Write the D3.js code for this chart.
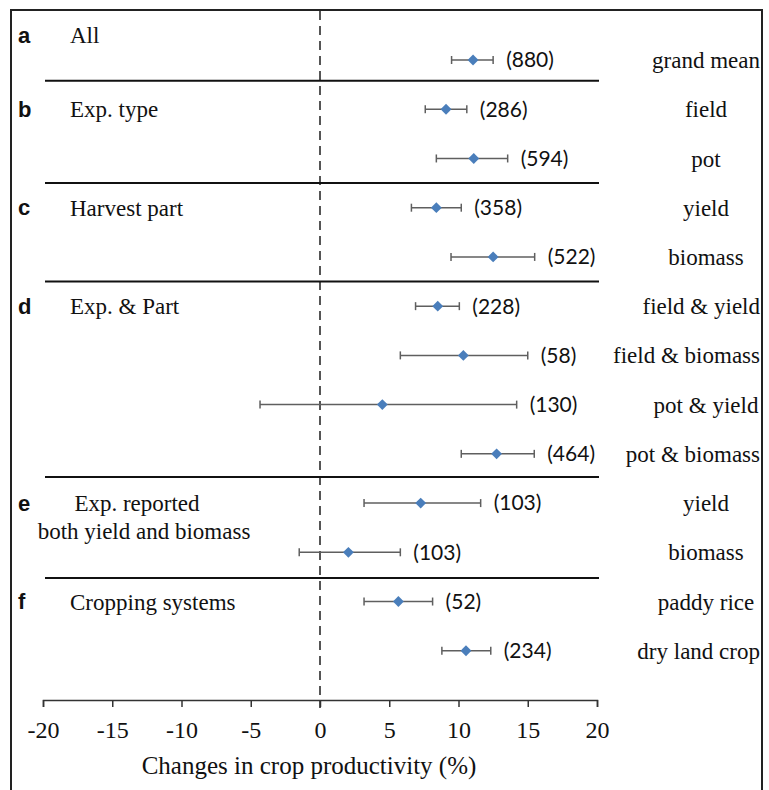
<!DOCTYPE html>
<html><head><meta charset="utf-8">
<script src="https://cdn.jsdelivr.net/npm/d3@7"></script>
<style>html,body{margin:0;padding:0;background:#fff;}svg{display:block;}</style>
</head><body>
<svg id="chart" width="769" height="790"></svg>
<script>
// ---- data ----
const rowLabels = ['grand mean','field','pot','yield','biomass','field & yield','field & biomass','pot & yield','pot & biomass','yield','biomass','paddy rice','dry land crop'];
const means  = [11.05, 9.1, 11.1, 8.4, 12.5, 8.5, 10.35, 4.5, 12.75, 7.27, 2.05, 5.66, 10.54];
const lower  = [9.5, 7.6, 8.4, 6.6, 9.46, 6.9, 5.8, -4.33, 10.2, 3.18, -1.5, 3.18, 8.8];
const upper  = [12.5, 10.6, 13.55, 10.2, 15.5, 10.06, 15.0, 14.2, 15.47, 11.6, 5.8, 8.13, 12.33];
const counts = [880, 286, 594, 358, 522, 228, 58, 130, 464, 103, 103, 52, 234];
const groupLetters = ['a','b','c','d','e','f'];
const groupTitles = [['All'],['Exp. type'],['Harvest part'],['Exp. & Part'],['Exp. reported','both yield and biomass'],['Cropping systems']];
const groupStart = [0, 1, 3, 5, 9, 11];
const separatorRows = [0.42, 2.5, 4.5, 8.47, 10.52];
const xTicks = [-20,-15,-10,-5,0,5,10,15,20];
const xTitle = 'Changes in crop productivity (%)';

const svg = d3.select('#chart');
const serif = '"Liberation Serif","Times New Roman",serif';
const sans = '"Liberation Sans",Arial,sans-serif';

const x = d3.scaleLinear().domain([-20, 20]).range([43, 597]);
const y = d3.scaleLinear().domain([0, rowLabels.length]).range([60, 700]);

// clip & border
svg.append('defs').append('clipPath').attr('id','clip')
  .append('rect').attr('x',11).attr('y',10).attr('width',751).attr('height',800);
svg.append('rect').attr('x',11).attr('y',10).attr('width',751).attr('height',800)
  .attr('fill','none').attr('stroke','#222').attr('stroke-width',2);
const g = svg.append('g').attr('clip-path','url(#clip)');

// zero dashed line
g.append('line').attr('x1',x(0)).attr('x2',x(0)).attr('y1',11).attr('y2',708)
  .attr('stroke','#555').attr('stroke-width',2).attr('stroke-dasharray','9,6');

// separators
separatorRows.forEach(r => {
  const yy = y(r);
  g.append('line').attr('x1', x(-20)+2).attr('x2', x(20)+2).attr('y1', yy).attr('y2', yy)
    .attr('stroke','#111').attr('stroke-width',2);
});

// axis
const axis = d3.axisBottom(x).tickValues(xTicks).tickSize(7).tickFormat(d3.format('d'));
const ax = g.append('g').attr('transform',`translate(0,${y(rowLabels.length)})`).call(axis);
ax.select('.domain').attr('stroke','#333').attr('stroke-width',1.5);
ax.selectAll('.tick line').attr('stroke','#333').attr('stroke-width',1.5);
ax.selectAll('.tick text').attr('font-family',serif).attr('font-size',24).attr('fill','#111')
  .attr('y', 30).attr('dy','0.35em')
  .text(d => d < 0 ? '-' + Math.abs(d) : d);
g.append('text').attr('x', 309).attr('y', 765).attr('dy','0.35em').attr('text-anchor','middle')
  .attr('font-family',serif).attr('font-size',25).attr('fill','#111').text(xTitle);

// error bars
const idx = d3.range(rowLabels.length);
g.selectAll('.eb').data(idx).join('line').attr('class','eb')
  .attr('x1', i => x(lower[i])).attr('x2', i => x(upper[i]))
  .attr('y1', i => y(i)).attr('y2', i => y(i)).attr('stroke','#5f5f5f').attr('stroke-width',1.5);
g.selectAll('.capl').data(idx).join('line').attr('class','capl')
  .attr('x1', i => x(lower[i])).attr('x2', i => x(lower[i]))
  .attr('y1', i => y(i)-4).attr('y2', i => y(i)+4).attr('stroke','#5f5f5f').attr('stroke-width',1.5);
g.selectAll('.capu').data(idx).join('line').attr('class','capu')
  .attr('x1', i => x(upper[i])).attr('x2', i => x(upper[i]))
  .attr('y1', i => y(i)-4).attr('y2', i => y(i)+4).attr('stroke','#5f5f5f').attr('stroke-width',1.5);
// diamonds
g.selectAll('.pt').data(idx).join('path').attr('class','pt')
  .attr('d', d3.symbol(d3.symbolDiamond2, 75))
  .attr('transform', i => `translate(${x(means[i])},${y(i)})`)
  .attr('fill','#4a7ebb');

// counts
g.selectAll('.cnt').data(idx).join('text').attr('class','cnt')
  .attr('x', i => x(upper[i]) + 13).attr('y', i => y(i)).attr('dy','0.35em')
  .attr('font-family','Lato, "Open Sans", sans-serif').attr('font-size',21).attr('fill','#111')
  .text(i => `(${counts[i]})`);

// right labels
g.selectAll('.rl').data(idx).join('text').attr('class','rl')
  .attr('y', i => y(i)).attr('dy','0.35em').attr('text-anchor','middle')
  .attr('font-family',serif).attr('font-size',23).attr('fill','#111')
  .text(i => rowLabels[i])
  .each(function() {
    const w = this.getComputedTextLength();
    d3.select(this).attr('x', Math.min(706, 760 - w/2));
  });

// group letters and titles
groupLetters.forEach((L, k) => {
  const r = k === 0 ? -0.5 : groupStart[k];
  const yy = y(r);
  g.append('text').attr('x', 18).attr('y', yy).attr('dy','0.35em')
    .attr('font-family',sans).attr('font-weight','bold').attr('font-size',22).attr('fill','#111').text(L);
  const lines = groupTitles[k];
  if (lines.length === 1) {
    g.append('text').attr('x', 70).attr('y', yy).attr('dy','0.35em')
      .attr('font-family',serif).attr('font-size',23).attr('fill','#111').text(lines[0]);
  } else {
    lines.forEach((t, j) => {
      g.append('text').attr('x', j === 0 ? 137 : 144).attr('y', yy + j*28).attr('dy','0.35em').attr('text-anchor','middle')
        .attr('font-family',serif).attr('font-size',23).attr('fill','#111').text(t);
    });
  }
});
</script>
</body></html>
